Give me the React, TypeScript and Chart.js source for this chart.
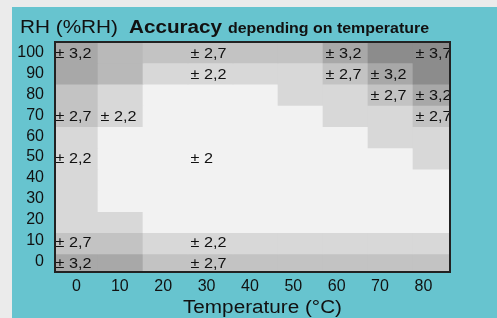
import React, { useEffect, useRef } from 'react';
import { Chart, registerables } from 'chart.js';

Chart.register(...registerables);

// ---------- data ----------
const temperatures = [0, 10, 20, 30, 40, 50, 60, 70, 80];
const humidityRows = [100, 90, 80, 70, 60, 50, 40, 30, 20, 10, 0];
const xTickValues = [0, 10, 20, 30, 40, 50, 60, 70, 80];
const yTickValues = [0, 10, 20, 30, 40, 50, 60, 70, 80, 90, 100];

// shade level of every cell (0 = lightest … 5 = darkest), rows from RH 100 down to RH 0
const shadeGrid = [
  [4, 3, 2, 2, 2, 2, 4, 5, 5],
  [4, 3, 1, 1, 1, 1, 2, 4, 5],
  [2, 1, 0, 0, 0, 1, 1, 2, 4],
  [2, 1, 0, 0, 0, 0, 1, 1, 2],
  [1, 0, 0, 0, 0, 0, 0, 1, 1],
  [1, 0, 0, 0, 0, 0, 0, 0, 1],
  [1, 0, 0, 0, 0, 0, 0, 0, 0],
  [1, 0, 0, 0, 0, 0, 0, 0, 0],
  [1, 1, 0, 0, 0, 0, 0, 0, 0],
  [2, 2, 1, 1, 1, 1, 1, 1, 1],
  [4, 4, 2, 2, 2, 2, 2, 2, 2],
];
const shadeColors = ['#f2f2f2', '#d8d8d8', '#c3c3c3', '#b9b9b9', '#a8a8a8', '#8c8c8c'];

// accuracy labels
const labelTemps = [0, 30, 60, 80, 30, 60, 70, 70, 80, 0, 10, 80, 0, 30, 0, 30, 0, 30];
const labelRH = [100, 100, 100, 100, 90, 90, 90, 80, 80, 70, 70, 70, 50, 50, 10, 10, 0, 0];
const labelTexts = [
  '± 3,2', '± 2,7', '± 3,2', '± 3,7',
  '± 2,2', '± 2,7', '± 3,2',
  '± 2,7', '± 3,2',
  '± 2,7', '± 2,2', '± 2,7',
  '± 2,2', '± 2',
  '± 2,7', '± 2,2',
  '± 3,2', '± 2,7',
];

const FONT = '"Liberation Sans", Arial, sans-serif';

function drawStretched(ctx: CanvasRenderingContext2D, text: string, x: number, y: number, font: string, targetWidth: number) {
  ctx.save();
  ctx.font = font;
  const w = ctx.measureText(text).width;
  ctx.translate(x, y);
  ctx.scale(targetWidth / w, 1);
  ctx.textAlign = 'left';
  ctx.textBaseline = 'alphabetic';
  ctx.fillStyle = '#111';
  ctx.fillText(text, 0, 0);
  ctx.restore();
}

const decorPlugin = {
  id: 'decor',
  beforeDraw(chart: any) {
    const { ctx, width, height } = chart;
    ctx.save();
    ctx.fillStyle = '#ebebeb';
    ctx.fillRect(0, 0, width, height);
    ctx.fillStyle = '#67c4cf';
    ctx.fillRect(12, 7, width - 12, height - 7);
    ctx.restore();
  },
  afterDatasetsDraw(chart: any) {
    const { ctx, chartArea } = chart;
    const xs = chart.scales.x;
    const ys = chart.scales.yt;
    ctx.save();
    ctx.beginPath();
    ctx.rect(chartArea.left, chartArea.top, chartArea.right - chartArea.left, chartArea.bottom - chartArea.top);
    ctx.clip();
    ctx.font = `15px ${FONT}`;
    ctx.fillStyle = '#111';
    ctx.textAlign = 'left';
    ctx.textBaseline = 'alphabetic';
    labelTexts.forEach((t, i) => {
      const px = xs.getPixelForValue(labelTemps[i] - 5) + 2.5;
      const py = ys.getPixelForValue(labelRH[i]) + 6;
      ctx.save();
      ctx.translate(px, py);
      ctx.scale(1.08, 1);
      ctx.fillText(t, 0, 0);
      ctx.restore();
    });
    ctx.restore();

    ctx.save();
    ctx.strokeStyle = '#222';
    ctx.lineWidth = 2;
    ctx.strokeRect(chartArea.left, chartArea.top, chartArea.right - chartArea.left, chartArea.bottom - chartArea.top);
    ctx.restore();
  },
  afterDraw(chart: any) {
    const { ctx } = chart;
    drawStretched(ctx, 'RH (%RH)', 20, 33, `18px ${FONT}`, 98);
    drawStretched(ctx, 'Accuracy', 129, 33, `bold 18px ${FONT}`, 93);
    drawStretched(ctx, 'depending on temperature', 228, 33, `bold 14px ${FONT}`, 201);
    drawStretched(ctx, 'Temperature (°C)', 183, 313, `18px ${FONT}`, 159);
  },
};

export default function App() {
  const canvasRef = useRef<HTMLCanvasElement | null>(null);

  useEffect(() => {
    if (!canvasRef.current) return;
    const datasets = humidityRows.map((rh, i) => ({
      data: temperatures.map((t) => ({ x: t, y: [rh - 5, rh + 5] })),
      backgroundColor: temperatures.map((_, j) => shadeColors[shadeGrid[i][j]]),
      borderWidth: 0,
      grouped: false,
      barPercentage: 1,
      categoryPercentage: 1,
      xAxisID: 'x',
      yAxisID: 'y',
    }));

    const tickFont = { size: 16, family: FONT };

    const chart = new Chart(canvasRef.current, {
      type: 'bar',
      data: { datasets } as any,
      plugins: [decorPlugin],
      options: {
        animation: false,
        responsive: false,
        devicePixelRatio: 1,
        layout: { padding: { left: 0, top: 42, right: 47, bottom: 0 } },
        plugins: { legend: { display: false }, tooltip: { enabled: false }, title: { display: false } },
        scales: {
          x: {
            type: 'linear',
            display: false,
            offset: false,
            min: -4.556,
            max: 83.22,
            afterBuildTicks: (s: any) => {
              s.ticks = temperatures.map((v) => ({ value: v }));
            },
          },
          xt: {
            type: 'linear',
            position: 'bottom',
            offset: false,
            min: -4.96,
            max: 86.14,
            afterBuildTicks: (s: any) => {
              s.ticks = xTickValues.map((v) => ({ value: v }));
            },
            afterFit: (s: any) => {
              s.height = 46;
            },
            grid: { display: false, drawTicks: false, offset: false },
            border: { display: false },
            ticks: { padding: 5, autoSkip: false, maxRotation: 0, color: '#111', font: tickFont },
          },
          y: {
            type: 'linear',
            display: false,
            offset: false,
            min: -3.48,
            max: 104.9,
          },
          yt: {
            type: 'linear',
            position: 'left',
            offset: false,
            min: -4.84,
            max: 104.9,
            afterBuildTicks: (s: any) => {
              s.ticks = yTickValues.map((v) => ({ value: v }));
            },
            afterFit: (s: any) => {
              s.width = 55;
            },
            grid: { display: false, drawTicks: false },
            border: { display: false },
            ticks: { padding: 11, autoSkip: false, color: '#111', font: tickFont },
          },
        },
      } as any,
    });
    return () => chart.destroy();
  }, []);

  return (
    <div style={{ position: 'fixed', left: 0, top: 0, width: 497, height: 318 }}>
      <canvas ref={canvasRef} width={497} height={318} style={{ display: 'block' }} />
    </div>
  );
}
